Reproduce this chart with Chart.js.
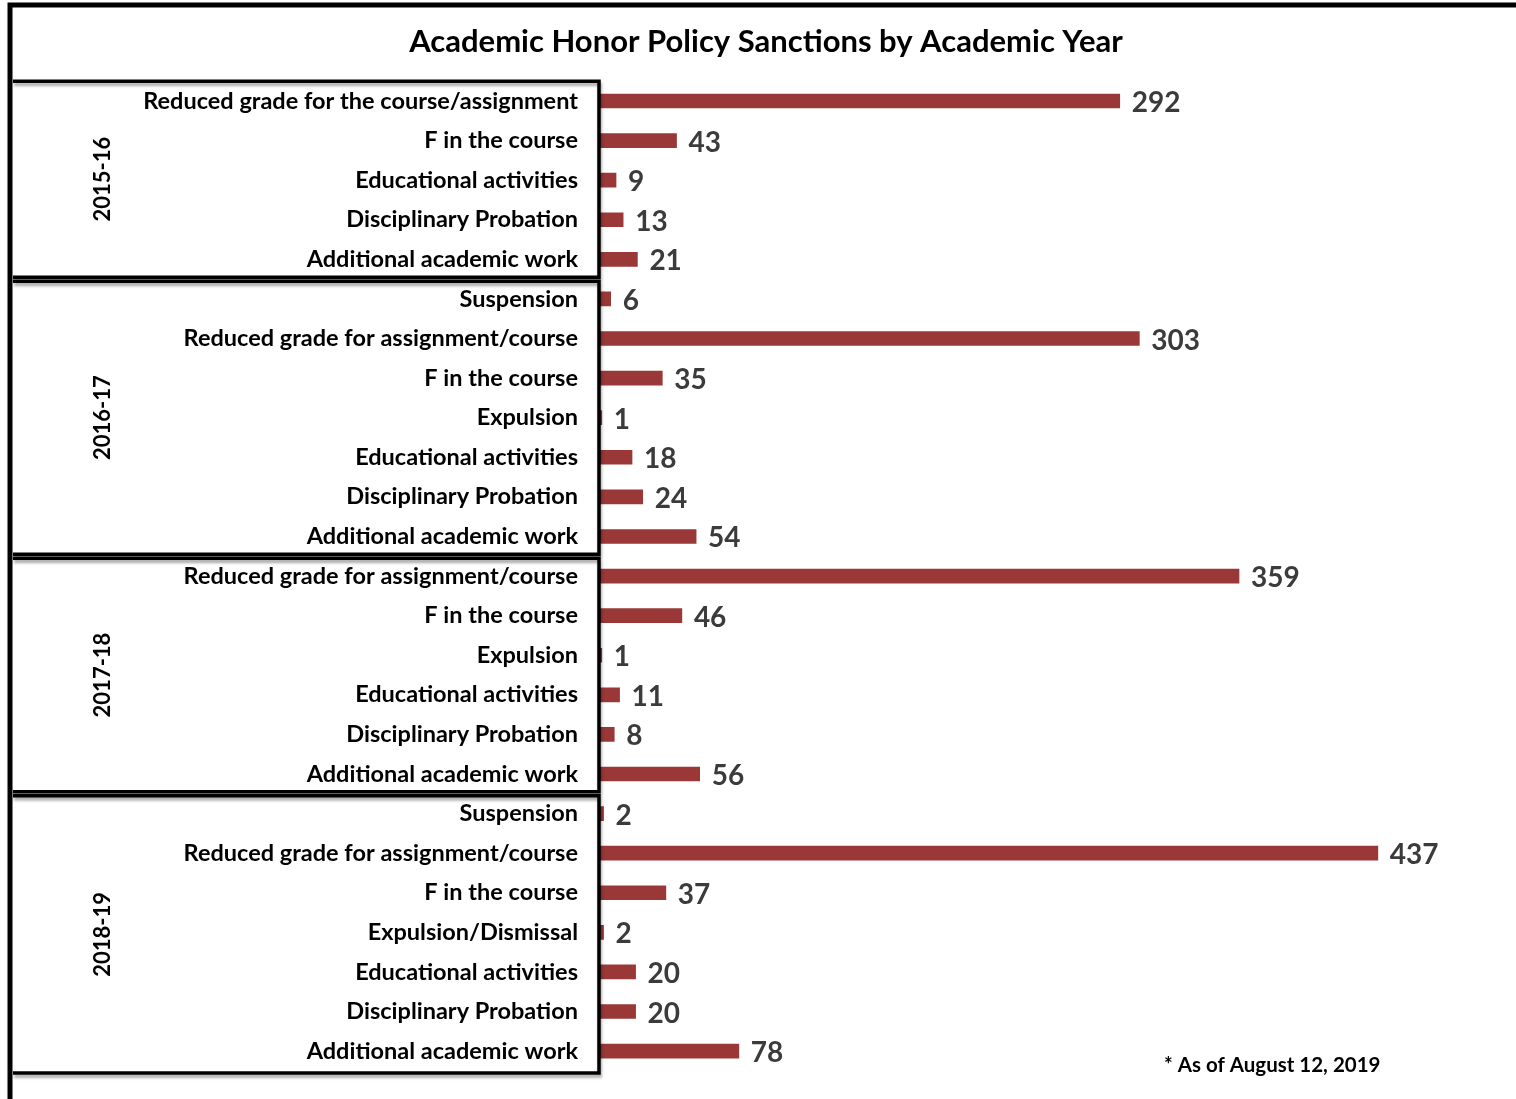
<!DOCTYPE html>
<html>
<head>
<meta charset="utf-8">
<script src="https://cdn.jsdelivr.net/npm/chart.js@4/dist/chart.umd.min.js"></script>
<style>
  html, body { margin: 0; padding: 0; background: #fff; }
  canvas { display: block; }
</style>
</head>
<body>
<canvas id="sanctionsChart" width="1516" height="1099"></canvas>
<script>
// Sanction types, top to bottom
const categories = [
    'Reduced grade for the course/assignment', 'F in the course', 'Educational activities',
    'Disciplinary Probation', 'Additional academic work',
    'Suspension', 'Reduced grade for assignment/course', 'F in the course', 'Expulsion',
    'Educational activities', 'Disciplinary Probation', 'Additional academic work',
    'Reduced grade for assignment/course', 'F in the course', 'Expulsion',
    'Educational activities', 'Disciplinary Probation', 'Additional academic work',
    'Suspension', 'Reduced grade for assignment/course', 'F in the course', 'Expulsion/Dismissal',
    'Educational activities', 'Disciplinary Probation', 'Additional academic work'
];
const counts = [
    292, 43, 9, 13, 21,
    6, 303, 35, 1, 18, 24, 54,
    359, 46, 1, 11, 8, 56,
    2, 437, 37, 2, 20, 20, 78
];
const years = ['2015-16', '2016-17', '2017-18', '2018-19'];
const yearSizes = [5, 7, 6, 7]; // number of rows in each academic year
const chartTitle = 'Academic Honor Policy Sanctions by Academic Year';
const footnote = '* As of August 12, 2019';

const FONT = 'Lato, "Liberation Sans", sans-serif';

// Value labels at the end of each bar
const valueLabels = {
    id: 'valueLabels',
    afterDatasetsDraw(chart) {
        const ctx = chart.ctx;
        const meta = chart.getDatasetMeta(0);
        ctx.save();
        ctx.font = 'bold 28px ' + FONT;
        ctx.fillStyle = '#3b3b3b';
        ctx.textAlign = 'left';
        ctx.textBaseline = 'middle';
        meta.data.forEach((bar, i) => {
            ctx.fillText(String(counts[i]), bar.x + 12, bar.y + 2);
        });
        ctx.restore();
    }
};

// Outer frame, year boxes, year labels and footnote
const yearBoxes = {
    id: 'yearBoxes',
    afterDraw(chart) {
        const ctx = chart.ctx;
        const yScale = chart.scales.y;
        const area = chart.chartArea;
        ctx.save();

        // outer frame (top and left)
        ctx.strokeStyle = '#000';
        ctx.lineWidth = 5;
        ctx.beginPath();
        ctx.moveTo(1516, 5);
        ctx.lineTo(10, 5);
        ctx.lineTo(10, 1099);
        ctx.stroke();

        let start = 0;
        yearSizes.forEach((size, g) => {
            const end = start + size - 1;
            const top = start === 0 ? area.top : (yScale.getPixelForValue(start - 1) + yScale.getPixelForValue(start)) / 2 + 2;
            const bottom = end === counts.length - 1 ? area.bottom + 2 : (yScale.getPixelForValue(end) + yScale.getPixelForValue(end + 1)) / 2 - 2;
            const right = area.left - 1;

            ctx.save();
            ctx.shadowColor = 'rgba(0,0,0,0.35)';
            ctx.shadowOffsetY = 3;
            ctx.shadowOffsetX = 1;
            ctx.shadowBlur = 3;
            ctx.strokeStyle = '#000';
            ctx.lineWidth = 3.5;
            ctx.beginPath();
            ctx.moveTo(13, top);
            ctx.lineTo(right, top);
            ctx.lineTo(right, bottom);
            ctx.lineTo(13, bottom);
            ctx.stroke();
            ctx.restore();

            // rotated year label
            ctx.save();
            ctx.translate(103, (top + bottom) / 2);
            ctx.rotate(-Math.PI / 2);
            ctx.font = 'bold 22px ' + FONT;
            ctx.fillStyle = '#000';
            ctx.textAlign = 'center';
            ctx.textBaseline = 'middle';
            ctx.fillText(years[g], 0, 0);
            ctx.restore();

            start += size;
        });

        ctx.font = 'bold 20.5px ' + FONT;
        ctx.fillStyle = '#000';
        ctx.textAlign = 'left';
        ctx.textBaseline = 'middle';
        ctx.fillText(footnote, 1164, 1065);
        ctx.restore();
    }
};

const ctx = document.getElementById('sanctionsChart').getContext('2d');
new Chart(ctx, {
    type: 'bar',
    data: {
        labels: categories,
        datasets: [{
            data: counts,
            backgroundColor: '#993836',
            barThickness: 14,
        }],
    },
    options: {
        indexAxis: 'y',
        responsive: false,
        animation: false,
        layout: {
            padding: { left: 42, right: 26, top: 0, bottom: 10 },
        },
        plugins: {
            legend: { display: false },
            tooltip: { enabled: false },
            title: {
                display: true,
                text: chartTitle,
                color: '#000',
                font: { family: FONT, size: 31, weight: 'bold' },
                padding: { top: 23, bottom: 21 },
            },
        },
        scales: {
            x: {
                display: false,
                min: 0,
                max: 500,
            },
            y: {
                grid: { display: false },
                border: { display: false },
                ticks: {
                    autoSkip: false,
                    color: '#000',
                    padding: 14,
                    font: { family: FONT, size: 23.5, weight: 'bold' },
                },
                afterFit(axis) {
                    axis.width = 558; // bars start at x = 600
                },
            },
        },
    },
    plugins: [valueLabels, yearBoxes],
});
</script>
</body>
</html>
